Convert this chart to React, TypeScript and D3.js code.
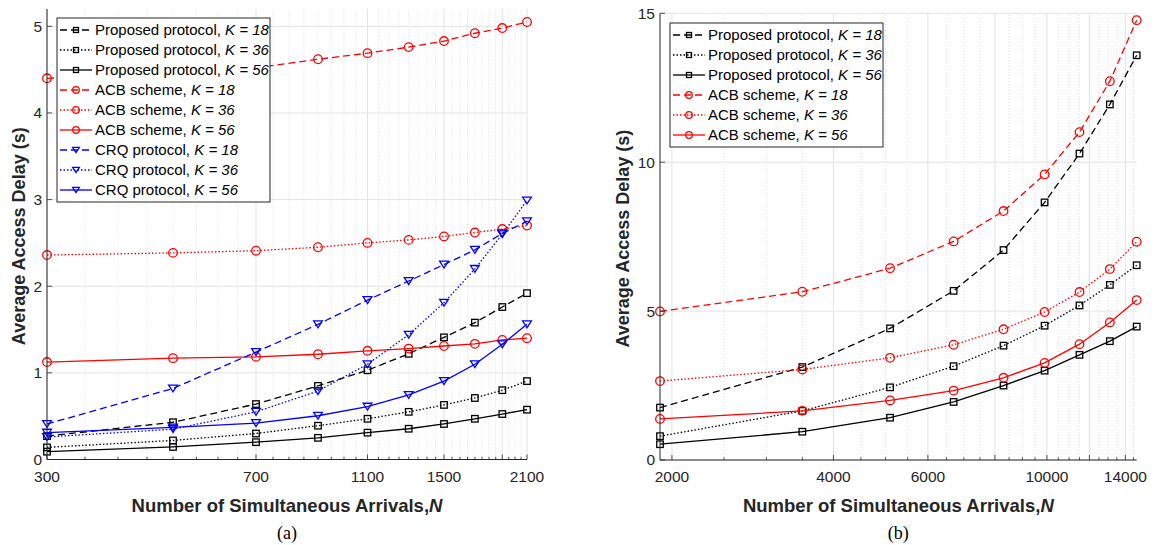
import React from 'react'
import * as d3 from 'd3'

// panel (a)
const nA = [300, 500, 700, 900, 1100, 1300, 1500, 1700, 1900, 2100]
const propA18 = [0.27, 0.43, 0.64, 0.85, 1.03, 1.22, 1.41, 1.58, 1.76, 1.92]
const propA36 = [0.14, 0.22, 0.3, 0.39, 0.47, 0.55, 0.63, 0.71, 0.8, 0.905]
const propA56 = [0.09, 0.145, 0.2, 0.25, 0.31, 0.355, 0.41, 0.47, 0.525, 0.575]
const acbA18 = [4.4, 4.46, 4.52, 4.62, 4.69, 4.76, 4.83, 4.92, 4.98, 5.05]
const acbA36 = [2.36, 2.385, 2.41, 2.45, 2.5, 2.535, 2.575, 2.62, 2.66, 2.7]
const acbA56 = [1.125, 1.17, 1.185, 1.215, 1.255, 1.28, 1.31, 1.335, 1.38, 1.4]
const crqA18 = [0.41, 0.82, 1.24, 1.56, 1.84, 2.06, 2.25, 2.42, 2.61, 2.75]
const crqA36 = [0.26, 0.35, 0.55, 0.79, 1.1, 1.44, 1.81, 2.2, 2.6, 2.99]
const crqA56 = [0.31, 0.37, 0.42, 0.505, 0.61, 0.745, 0.905, 1.1, 1.33, 1.56]
const xTicksA = [300, 700, 1100, 1500, 2100]
const xMajorA = [300, 700, 1100, 1500, 1900, 2100]
const yTicksA = [0, 1, 2, 3, 4, 5]

// panel (b)
const nB = [1900, 3500, 5100, 6700, 8300, 9900, 11500, 13100, 14700]
const propB18 = [1.76, 3.12, 4.42, 5.68, 7.05, 8.65, 10.29, 11.94, 13.59]
const propB36 = [0.8, 1.65, 2.44, 3.15, 3.84, 4.51, 5.19, 5.88, 6.54]
const propB56 = [0.53, 0.95, 1.42, 1.95, 2.5, 3.0, 3.53, 3.99, 4.48]
const acbB18 = [4.99, 5.65, 6.44, 7.34, 8.36, 9.59, 11.01, 12.72, 14.77]
const acbB36 = [2.65, 3.04, 3.43, 3.87, 4.39, 4.97, 5.64, 6.41, 7.33]
const acbB56 = [1.38, 1.65, 2.0, 2.33, 2.76, 3.26, 3.89, 4.62, 5.37]
const xTicksB = [2000, 4000, 6000, 10000, 14000]
const xMajorB = [2000, 4000, 6000, 8000, 10000, 12000, 14000]
const yTicksB = [0, 5, 10, 15]

const AX = '#262626'
const FONT = 'Liberation Sans, Arial, sans-serif'

type Series = {
	label: string
	k: string
	values: number[]
	color: string
	dash: string | undefined
	marker: 'square' | 'circle' | 'tri'
}

const DASHED = '7,4'
const DOTTED = '1.5,2'

const mk = (label: string, k: string, values: number[], color: string, dash: string | undefined, marker: Series['marker']): Series => ({ label, k, values, color, dash, marker })

const seriesA: Series[] = [
	mk('Proposed protocol, ', '18', propA18, '#000', DASHED, 'square'),
	mk('Proposed protocol, ', '36', propA36, '#000', DOTTED, 'square'),
	mk('Proposed protocol, ', '56', propA56, '#000', undefined, 'square'),
	mk('ACB scheme, ', '18', acbA18, '#ff0000', DASHED, 'circle'),
	mk('ACB scheme, ', '36', acbA36, '#ff0000', DOTTED, 'circle'),
	mk('ACB scheme, ', '56', acbA56, '#ff0000', undefined, 'circle'),
	mk('CRQ protocol, ', '18', crqA18, '#0000ff', DASHED, 'tri'),
	mk('CRQ protocol, ', '36', crqA36, '#0000ff', DOTTED, 'tri'),
	mk('CRQ protocol, ', '56', crqA56, '#0000ff', undefined, 'tri'),
]

const seriesB: Series[] = [
	mk('Proposed protocol, ', '18', propB18, '#000', DASHED, 'square'),
	mk('Proposed protocol, ', '36', propB36, '#000', DOTTED, 'square'),
	mk('Proposed protocol, ', '56', propB56, '#000', undefined, 'square'),
	mk('ACB scheme, ', '18', acbB18, '#ff0000', DASHED, 'circle'),
	mk('ACB scheme, ', '36', acbB36, '#ff0000', DOTTED, 'circle'),
	mk('ACB scheme, ', '56', acbB56, '#ff0000', undefined, 'circle'),
]

const Marker = ({ type, x, y, color, s }: { type: Series['marker']; x: number; y: number; color: string; s: number }) => {
	if (type === 'square') {
		return <rect x={x - s / 2} y={y - s / 2} width={s} height={s} fill="none" stroke={color} strokeWidth={1.3} />
	}
	if (type === 'circle') {
		return <circle cx={x} cy={y} r={s * 0.66} fill="none" stroke={color} strokeWidth={1.3} />
	}
	const w = s * 1.35
	const h = s * 1.05
	return (
		<path
			d={`M${x - w / 2},${y - h / 2}L${x + w / 2},${y - h / 2}L${x},${y + h / 2}Z`}
			fill="none"
			stroke={color}
			strokeWidth={1.3}
		/>
	)
}

type PanelProps = {
	n: number[]
	series: Series[]
	xDomain: [number, number]
	xRange: [number, number]
	yDomain: [number, number]
	yRange: [number, number]
	xTicks: number[]
	xMajor: number[]
	minorStep: number
	yTicks: number[]
	yLabelOffset: number
	legend: { x: number; y: number; w: number }
	caption: string
}

const Panel = (p: PanelProps) => {
	const x = d3.scaleLog().domain(p.xDomain).range(p.xRange)
	const y = d3.scaleLinear().domain(p.yDomain).range(p.yRange)
	const [x0, x1] = p.xRange
	const [yb, yt] = p.yRange
	const minor = d3
		.range(Math.ceil(p.xDomain[0] / p.minorStep) * p.minorStep, p.xDomain[1] + 1, p.minorStep)
		.filter((v) => !p.xMajor.includes(v))
	const line = d3
		.line<number>()
		.x((_, i) => x(p.n[i]))
		.y((d) => y(d))
	const cx = (x0 + x1) / 2
	const rowH = 20
	const legH = p.series.length * rowH + 4

	return (
		<g>
			{/* grid */}
			{minor.map((v) => (
				<line key={'m' + v} x1={x(v)} x2={x(v)} y1={yb} y2={yt} stroke="#d4d4d4" strokeWidth={0.8} strokeDasharray="1,2" />
			))}
			{p.xMajor.map((v) => (
				<line key={'M' + v} x1={x(v)} x2={x(v)} y1={yb} y2={yt} stroke="#e3e3e3" strokeWidth={1} />
			))}
			{p.yTicks.map((v) => (
				<line key={'y' + v} x1={x0} x2={x1} y1={y(v)} y2={y(v)} stroke="#e3e3e3" strokeWidth={1} />
			))}

			{/* series */}
			{p.series.map((s, si) => (
				<g key={si}>
					<path d={line(s.values) || ''} fill="none" stroke={s.color} strokeWidth={1.3} strokeDasharray={s.dash} />
					{s.values.map((v, i) => (
						<Marker key={i} type={s.marker} x={x(p.n[i])} y={y(v)} color={s.color} s={6.5} />
					))}
				</g>
			))}

			{/* axes */}
			<line x1={x0} x2={x0} y1={yb} y2={yt} stroke={AX} strokeWidth={1} />
			<line x1={x0} x2={x1} y1={yb} y2={yb} stroke={AX} strokeWidth={1} />
			{minor.map((v) => (
				<line key={'mt' + v} x1={x(v)} x2={x(v)} y1={yb} y2={yb - 2.7} stroke={AX} strokeWidth={0.8} />
			))}
			{p.xMajor.map((v) => (
				<line key={'Mt' + v} x1={x(v)} x2={x(v)} y1={yb} y2={yb - 5} stroke={AX} strokeWidth={0.8} />
			))}
			{p.yTicks.map((v) => (
				<g key={'yt' + v}>
					<line x1={x0} x2={x0 + 5} y1={y(v)} y2={y(v)} stroke={AX} strokeWidth={0.8} />
					<text x={x0 - 5} y={y(v)} dy="0.35em" textAnchor="end" fontSize={15.5} fontFamily={FONT} fill={AX}>
						{v}
					</text>
				</g>
			))}
			{p.xTicks.map((v) => (
				<text key={'xl' + v} x={x(v)} y={yb + 22} textAnchor="middle" fontSize={15.5} fontFamily={FONT} fill={AX}>
					{v}
				</text>
			))}
			<text x={cx} y={yb + 52} textAnchor="middle" fontSize={18.5} fontWeight="bold" fontFamily={FONT} fill={AX}>
				Number of Simultaneous Arrivals,<tspan fontStyle="italic">N</tspan>
			</text>
			<text
				transform={`translate(${x0 - p.yLabelOffset},${(yb + yt) / 2 + 2}) rotate(-90)`}
				textAnchor="middle"
				fontSize={18}
				fontWeight="bold"
				fontFamily={FONT}
				fill={AX}
			>
				Average Access Delay (s)
			</text>
			<text x={cx} y={yb + 79} textAnchor="middle" fontSize={18} fontFamily="Liberation Serif, Times New Roman, serif" fill="#000">
				{p.caption}
			</text>

			{/* legend */}
			<rect x={p.legend.x} y={p.legend.y} width={p.legend.w} height={legH} fill="#fff" stroke={AX} strokeWidth={1} />
			{p.series.map((s, i) => {
				const ry = p.legend.y + 12 + i * rowH
				const lx = p.legend.x + 3
				return (
					<g key={'lg' + i}>
						<line x1={lx} x2={lx + 32} y1={ry} y2={ry} stroke={s.color} strokeWidth={1.3} strokeDasharray={s.dash} />
						<Marker type={s.marker} x={lx + 16} y={ry} color={s.color} s={5} />
						<text x={lx + 35} y={ry} dy="0.36em" fontSize={15} fontFamily={FONT} fill="#000">
							{s.label}
							<tspan fontStyle="italic">K = {s.k}</tspan>
						</text>
					</g>
				)
			})}
		</g>
	)
}

const App = () => {
	return (
		<svg width={1155} height={545} style={{ position: 'absolute', left: 0, top: 0, background: '#fff' }}>
			<Panel
				n={nA}
				series={seriesA}
				xDomain={[300, 2100]}
				xRange={[47, 527]}
				yDomain={[0, 5.2]}
				yRange={[459.5, 9]}
				xTicks={xTicksA}
				xMajor={xMajorA}
				minorStep={50}
				yTicks={yTicksA}
				yLabelOffset={22}
				legend={{ x: 57, y: 18, w: 213 }}
				caption="(a)"
			/>
			<Panel
				n={nB}
				series={seriesB}
				xDomain={[1900, 14700]}
				xRange={[660, 1136.7]}
				yDomain={[0, 15]}
				yRange={[460, 13.3]}
				xTicks={xTicksB}
				xMajor={xMajorB}
				minorStep={500}
				yTicks={yTicksB}
				yLabelOffset={31}
				legend={{ x: 670, y: 23, w: 213 }}
				caption="(b)"
			/>
		</svg>
	)
}

export default App
